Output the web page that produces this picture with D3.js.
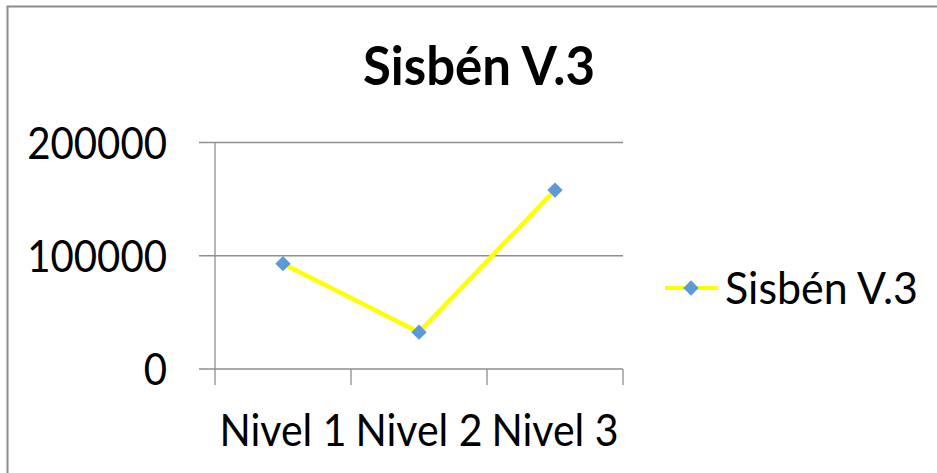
<!DOCTYPE html>
<html>
<head>
<meta charset="utf-8">
<script src="https://cdn.jsdelivr.net/npm/d3@7"></script>
<style>
  body { margin: 0; background: #fff; }
  svg { display: block; }
  text { font-family: Lato, "Open Sans", sans-serif; fill: #000; }
</style>
</head>
<body>
<div id="chart"></div>
<script>
const categories = ["Nivel 1", "Nivel 2", "Nivel 3"];
const values = [93000, 32500, 158000];
const yTicks = [0, 100000, 200000];
const seriesName = "Sisbén V.3";
const chartTitle = "Sisbén V.3";

const W = 937, H = 473;
const svg = d3.select("#chart").append("svg")
  .attr("width", W)
  .attr("height", H);

svg.append("rect")
  .attr("x", 7.5).attr("y", 6.5)
  .attr("width", W).attr("height", H)
  .attr("fill", "#fff")
  .attr("stroke", "#8c8c8c")
  .attr("stroke-width", 2);

const x = d3.scaleBand()
  .domain(categories)
  .range([215, 623]);

const y = d3.scaleLinear()
  .domain([0, 200000])
  .range([369, 142.5]);

const gridColor = "#8e8e8e";

// gridlines
svg.append("g")
  .selectAll("line")
  .data(yTicks)
  .join("line")
    .attr("x1", 199)
    .attr("x2", 623)
    .attr("y1", d => y(d))
    .attr("y2", d => y(d))
    .attr("stroke", gridColor)
    .attr("stroke-width", 1.3);

// y axis line
svg.append("line")
  .attr("x1", 215).attr("x2", 215)
  .attr("y1", y(200000)).attr("y2", 385)
  .attr("stroke", gridColor)
  .attr("stroke-width", 1.3);

// x axis ticks at band edges
const edges = categories.map(c => x(c)).concat([x.range()[1]]);
svg.append("g")
  .selectAll("line")
  .data(edges.slice(1))
  .join("line")
    .attr("x1", d => d).attr("x2", d => d)
    .attr("y1", y(0)).attr("y2", 385)
    .attr("stroke", gridColor)
    .attr("stroke-width", 1.3);

// y labels (condensed to mimic Calibri widths)
svg.append("g")
  .selectAll("text")
  .data(yTicks)
  .join("text")
    .attr("x", 167)
    .attr("y", d => y(d))
    .attr("dy", "0.36em")
    .attr("text-anchor", "end")
    .attr("font-size", 45)
    .attr("textLength", d => String(d).length * 23.3)
    .attr("lengthAdjust", "spacingAndGlyphs")
    .text(d => d);

// x labels
svg.append("g")
  .selectAll("text")
  .data(categories)
  .join("text")
    .attr("x", d => x(d) + x.bandwidth() / 2)
    .attr("y", 446)
    .attr("text-anchor", "middle")
    .attr("font-size", 44)
    .attr("textLength", 127)
    .attr("lengthAdjust", "spacingAndGlyphs")
    .text(d => d);

// title
svg.append("text")
  .attr("x", 479)
  .attr("y", 85)
  .attr("text-anchor", "middle")
  .attr("font-size", 54)
  .attr("font-weight", "bold")
  .attr("textLength", 232)
  .attr("lengthAdjust", "spacingAndGlyphs")
  .text(chartTitle);

// series line
const line = d3.line()
  .x((d, i) => x(categories[i]) + x.bandwidth() / 2)
  .y(d => y(d));

svg.append("path")
  .datum(values)
  .attr("d", line)
  .attr("fill", "none")
  .attr("stroke", "#ffff00")
  .attr("stroke-width", 4.5);

const diamond = d3.symbol().type(d3.symbolDiamond2).size(150);
svg.append("g")
  .selectAll("path")
  .data(values)
  .join("path")
    .attr("transform", (d, i) => `translate(${x(categories[i]) + x.bandwidth() / 2},${y(d)})`)
    .attr("d", diamond)
    .attr("fill", "#5b9bd5");

// legend
const leg = svg.append("g").attr("transform", "translate(665,288)");
leg.append("line")
  .attr("x1", 0).attr("x2", 53)
  .attr("y1", 0).attr("y2", 0)
  .attr("stroke", "#ffff00")
  .attr("stroke-width", 4);
leg.append("path")
  .attr("transform", "translate(26,0)")
  .attr("d", diamond)
  .attr("fill", "#5b9bd5");
leg.append("text")
  .attr("x", 60)
  .attr("y", 0)
  .attr("dy", "0.36em")
  .attr("font-size", 45)
  .attr("textLength", 193)
  .attr("lengthAdjust", "spacingAndGlyphs")
  .text(seriesName);
</script>
</body>
</html>
